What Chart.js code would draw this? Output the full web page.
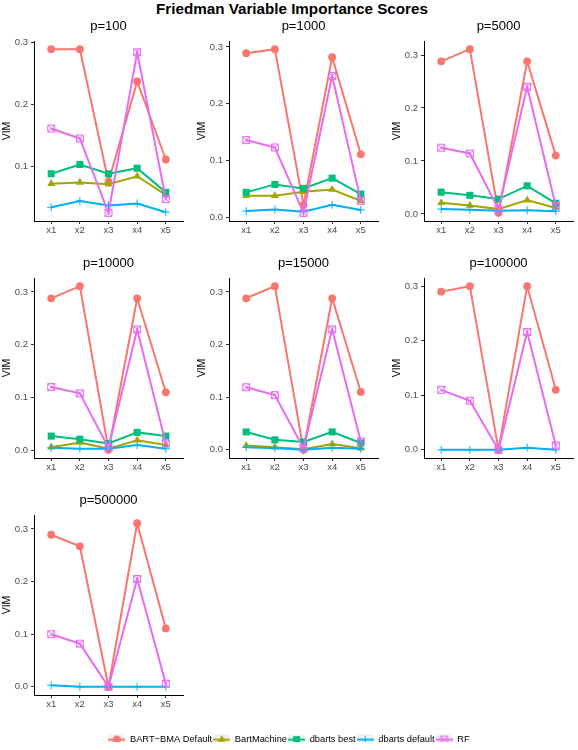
<!DOCTYPE html>
<html>
<head>
<meta charset="utf-8">
<script src="https://cdn.jsdelivr.net/npm/chart.js@4.4.1/dist/chart.umd.min.js"></script>
<style>
  html, body { margin: 0; padding: 0; background: #fff; width: 578px; height: 750px; overflow: hidden; }
  .panel { position: absolute; }
  #titulo {
    position: absolute; left: 3px; top: 0; width: 578px; text-align: center;
    font: bold 15.2px "Liberation Sans", Arial, sans-serif; line-height: 17px; color: #000;
  }
</style>
</head>
<body>
<div id="titulo">Friedman Variable Importance Scores</div>
<script>
// ============================================================
// DATOS
// ============================================================

const categorias = ['x1', 'x2', 'x3', 'x4', 'x5'];
const titulosPaneles = ['p=100', 'p=1000', 'p=5000', 'p=10000', 'p=15000', 'p=100000', 'p=500000'];
const nombresSeries = ['BART\u2212BMA Default', 'BartMachine', 'dbarts best', 'dbarts default', 'RF'];
const ticksY = [0, 0.1, 0.2, 0.3];

// una fila por panel (null = el método no se corrió en ese panel)
const bartBma = [
  [0.289, 0.289, 0.075, 0.237, 0.111],
  [0.289, 0.296, 0.022, 0.282, 0.111],
  [0.288, 0.311, 0.002, 0.288, 0.110],
  [0.288, 0.311, 0.001, 0.288, 0.110],
  [0.288, 0.311, 0.000, 0.288, 0.110],
  [0.290, 0.300, 0.000, 0.300, 0.110],
  [0.289, 0.267, 0.000, 0.311, 0.111]
];
const bartMachine = [
  [0.072, 0.074, 0.071, 0.084, 0.054],
  [0.038, 0.038, 0.045, 0.049, 0.029],
  [0.021, 0.016, 0.009, 0.026, 0.011],
  [0.006, 0.015, 0.003, 0.019, 0.010],
  [0.008, 0.005, 0.001, 0.011, 0.003],
  null,
  null
];
const dbartsBest = [
  [0.088, 0.103, 0.088, 0.097, 0.058],
  [0.044, 0.058, 0.051, 0.069, 0.041],
  [0.041, 0.035, 0.028, 0.053, 0.020],
  [0.027, 0.021, 0.013, 0.034, 0.027],
  [0.034, 0.019, 0.015, 0.034, 0.013],
  null,
  null
];
const dbartsDefault = [
  [0.034, 0.044, 0.037, 0.040, 0.026],
  [0.011, 0.014, 0.010, 0.022, 0.013],
  [0.009, 0.008, 0.006, 0.007, 0.005],
  [0.005, 0.003, 0.003, 0.010, 0.003],
  [0.005, 0.003, 0.000, 0.004, 0.002],
  [0.000, 0.000, 0.000, 0.004, 0.000],
  [0.003, 0.000, 0.000, 0.000, 0.000]
];
const rf = [
  [0.161, 0.145, 0.025, 0.284, 0.047],
  [0.136, 0.123, 0.008, 0.249, 0.029],
  [0.125, 0.114, 0.009, 0.240, 0.015],
  [0.120, 0.108, 0.005, 0.229, 0.013],
  [0.119, 0.104, 0.003, 0.229, 0.016],
  [0.110, 0.090, 0.000, 0.216, 0.008],
  [0.100, 0.082, 0.000, 0.205, 0.006]
];

const datosSeries = [bartBma, bartMachine, dbartsBest, dbartsDefault, rf];

// ============================================================
// ESTILO
// ============================================================

const FUENTE = "'Liberation Sans', Arial, sans-serif";
const colores = ['#F8766D', '#A3A500', '#00BF7D', '#00B0F6', '#E76BF3'];
const tiposMarcador = ['circle', 'triangle', 'rect', 'cross', 'rfbox'];
const radios = [3.9, 4.6, 5, 4, 5];

const izquierdaCol = [0, 195, 390];
const arribaFila = [19, 256, 493];

/**
 * Dibuja un marcador estilo ggplot en un contexto 2D (para la leyenda
 * y para el cuadrado con X del RF, que Chart.js no trae).
 */
function dibujarMarcador(ctx, tipo, cx, cy, color) {
  ctx.fillStyle = color;
  ctx.strokeStyle = color;
  ctx.lineWidth = 1;
  ctx.beginPath();
  if (tipo === 'circle') {
    ctx.arc(cx, cy, 3.9, 0, Math.PI * 2);
    ctx.fill();
  } else if (tipo === 'triangle') {
    const r = 4.6;
    ctx.moveTo(cx, cy - r);
    ctx.lineTo(cx + r * 0.866, cy + r / 2);
    ctx.lineTo(cx - r * 0.866, cy + r / 2);
    ctx.closePath();
    ctx.fill();
  } else if (tipo === 'rect') {
    ctx.rect(cx - 3.5, cy - 3.5, 7, 7);
    ctx.fill();
  } else if (tipo === 'cross') {
    ctx.moveTo(cx - 4, cy); ctx.lineTo(cx + 4, cy);
    ctx.moveTo(cx, cy - 4); ctx.lineTo(cx, cy + 4);
    ctx.stroke();
  } else {
    ctx.rect(cx - 3.5, cy - 3.5, 7, 7);
    ctx.moveTo(cx - 3.5, cy - 3.5); ctx.lineTo(cx + 3.5, cy + 3.5);
    ctx.moveTo(cx + 3.5, cy - 3.5); ctx.lineTo(cx - 3.5, cy + 3.5);
    ctx.stroke();
  }
}

// marcador del RF como imagen (cuadrado abierto con X)
const iconoRF = document.createElement('canvas');
iconoRF.width = 10; iconoRF.height = 10;
dibujarMarcador(iconoRF.getContext('2d'), 'rfbox', 5, 5, colores[4]);

// claves de la leyenda: fondo gris, línea y marcador
const iconosLeyenda = nombresSeries.map((n, i) => {
  const c = document.createElement('canvas');
  c.width = 17; c.height = 17;
  const ctx = c.getContext('2d');
  ctx.fillStyle = '#F2F2F2';
  ctx.fillRect(0, 0, 17, 17);
  ctx.strokeStyle = colores[i];
  ctx.lineWidth = 2;
  ctx.beginPath();
  ctx.moveTo(0, 8.5); ctx.lineTo(17, 8.5);
  ctx.stroke();
  dibujarMarcador(ctx, tiposMarcador[i], 8.5, 8.5, colores[i]);
  return c;
});

// ============================================================
// PANELES
// ============================================================

function crearPanel(idx) {
  const cont = document.createElement('div');
  cont.className = 'panel';
  cont.style.left = izquierdaCol[idx % 3] + 'px';
  cont.style.top = arribaFila[Math.floor(idx / 3)] + 'px';
  const canvas = document.createElement('canvas');
  canvas.width = 188;
  canvas.height = 222;
  cont.appendChild(canvas);
  document.body.appendChild(cont);

  // escala y libre con expansión del 5% como ggplot
  const valores = datosSeries.flatMap(s => s[idx] || []);
  const lo = Math.min(...valores);
  const hi = Math.max(...valores);
  const ext = (hi - lo) * 0.05;

  const ejeComun = {
    grid: { display: true, drawOnChartArea: false, drawTicks: true, tickLength: 3, color: '#333' },
    border: { display: true, color: '#000', width: 1 }
  };

  new Chart(canvas, {
    type: 'line',
    data: {
      datasets: datosSeries.map((s, i) => ({
        label: nombresSeries[i],
        data: (s[idx] || []).map((v, k) => ({ x: k + 1, y: v })),
        order: 4 - i,
        borderColor: colores[i],
        backgroundColor: colores[i],
        borderWidth: 2,
        pointStyle: i === 4 ? iconoRF : tiposMarcador[i],
        pointRadius: radios[i],
        pointBackgroundColor: colores[i],
        pointBorderColor: colores[i],
        pointBorderWidth: i === 3 ? 1 : 0
      }))
    },
    options: {
      responsive: false,
      animation: false,
      events: [],
      layout: { padding: { left: 0, right: 2, top: 0, bottom: 0 } },
      plugins: {
        legend: { display: false },
        tooltip: { enabled: false },
        title: {
          display: true,
          text: titulosPaneles[idx],
          fullSize: false,
          color: '#000',
          font: { family: FUENTE, size: 13, weight: 'normal', lineHeight: 1.2 },
          padding: { top: 0, bottom: 6.4 }
        }
      },
      scales: {
        x: {
          ...ejeComun,
          type: 'linear',
          min: 0.4,
          max: 5.6,
          afterBuildTicks: (s) => { s.ticks = categorias.map((c, k) => ({ value: k + 1 })); },
          afterFit: (s) => { s.height = 20; },
          ticks: {
            callback: (v) => categorias[v - 1],
            color: '#4D4D4D',
            font: { family: FUENTE, size: 9.5 },
            padding: 1,
            maxRotation: 0,
            autoSkip: false
          }
        },
        y: {
          ...ejeComun,
          type: 'linear',
          min: lo - ext,
          max: hi + ext,
          afterBuildTicks: (s) => {
            s.ticks = ticksY.filter(v => v >= s.min - 1e-9 && v <= s.max + 1e-9).map(v => ({ value: v }));
          },
          afterFit: (s) => { s.width = 34; },
          title: {
            display: true,
            text: 'VIM',
            color: '#000',
            font: { family: FUENTE, size: 10.5 },
            padding: { top: 0.8, bottom: 0 }
          },
          ticks: {
            callback: (v) => v.toFixed(1),
            color: '#4D4D4D',
            font: { family: FUENTE, size: 9.5 },
            padding: 3
          }
        }
      }
    }
  });
}

titulosPaneles.forEach((t, idx) => crearPanel(idx));

// ============================================================
// LEYENDA COMÚN (abajo)
// ============================================================

const contLeyenda = document.createElement('div');
contLeyenda.className = 'panel';
contLeyenda.style.left = '0px';
contLeyenda.style.top = '720px';
const canvasLeyenda = document.createElement('canvas');
canvasLeyenda.width = 578;
canvasLeyenda.height = 30;
contLeyenda.appendChild(canvasLeyenda);
document.body.appendChild(contLeyenda);

new Chart(canvasLeyenda, {
  type: 'line',
  data: { datasets: nombresSeries.map((n) => ({ label: n, data: [] })) },
  options: {
    responsive: false,
    animation: false,
    events: [],
    layout: { padding: { top: 14 } },
    scales: { x: { display: false }, y: { display: false } },
    plugins: {
      tooltip: { enabled: false },
      legend: {
        display: true,
        position: 'top',
        align: 'center',
        labels: {
          usePointStyle: true,
          pointStyleWidth: 17,
          padding: 1,
          color: '#000',
          font: { family: FUENTE, size: 9.3 },
          generateLabels: () => nombresSeries.map((n, i) => ({
            text: n,
            pointStyle: iconosLeyenda[i],
            fillStyle: colores[i],
            strokeStyle: colores[i],
            lineWidth: 0,
            hidden: false,
            datasetIndex: i
          }))
        }
      }
    }
  }
});
</script>
</body>
</html>
